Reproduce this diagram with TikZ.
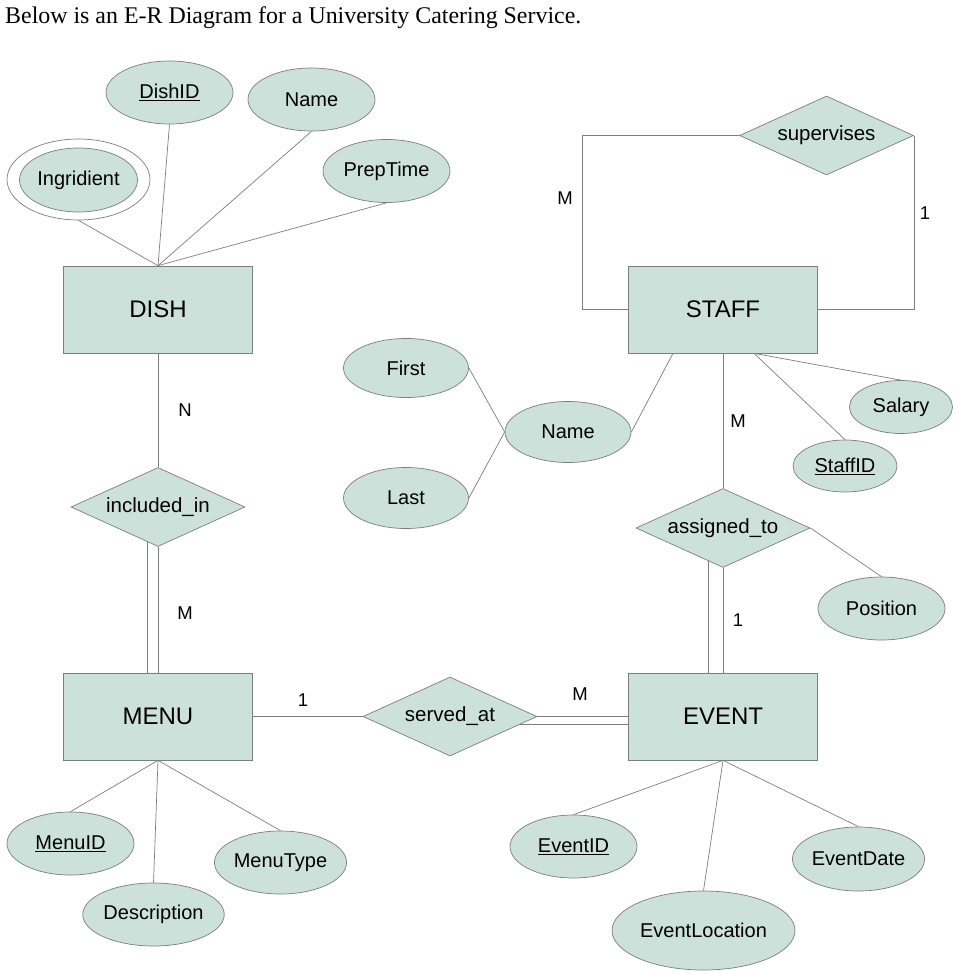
\documentclass[tikz,border=0pt]{standalone}
\usepackage{fontspec}
\setmainfont{Liberation Sans}
\newfontfamily\titlefont{Liberation Serif}
\usetikzlibrary{shapes.geometric,calc}
\definecolor{erfill}{RGB}{205,225,219}
\definecolor{erline}{RGB}{125,125,125}
\tikzset{
  attr/.style={ellipse, draw=erline, fill=erfill, line width=0.7pt, inner sep=0pt,
    minimum width=127pt, minimum height=63pt, font=\fontsize{20}{24}\selectfont},
  entity/.style={rectangle, draw=erline, fill=erfill, line width=0.7pt, inner sep=0pt,
    minimum width=189pt, minimum height=87pt, font=\fontsize{24}{28}\selectfont},
  rel/.style={diamond, draw=erline, fill=erfill, line width=0.7pt, inner sep=0pt, aspect=2.2,
    minimum width=174pt, minimum height=79pt, font=\fontsize{20.5}{24}\selectfont},
  conn/.style={draw=erline, line width=0.7pt},
  card/.style={font=\fontsize{18.5}{22}\selectfont, inner sep=0pt}
}
\begin{document}
\begin{tikzpicture}[x=1pt,y=-1pt]
\useasboundingbox (0,0) rectangle (957,974);
% title
\node[anchor=base west, inner sep=0pt, font=\titlefont\fontsize{23.9}{28}\selectfont] (title) at (5,24) {Below is an E-R Diagram for a University Catering Service.};

% entities
\node[entity] (dish) at (158,309.5) {DISH};
\node[entity] (staff) at (723,309.5) {STAFF};
\node[entity] (menu) at (158,716.5) {MENU};
\node[entity] (event) at (723,716.5) {EVENT};

% relationships
\node[rel] (sup) at (826.5,135.5) {supervises};
\node[rel] (incl) at (158,507) {included\_in};
\node[rel] (assigned) at (723,528) {assigned\_to};
\node[rel] (served) at (450,716.5) {served\_at};

% DISH attributes
\node[attr] (dishid) at (169.5,92.5) {\underline{DishID}};
\node[attr] (dname) at (311.5,99.5) {Name};
\node[attr] (prep) at (386.5,171) {PrepTime};
\node[ellipse, draw=erline, line width=0.7pt, inner sep=0pt, minimum width=143pt, minimum height=81pt] (ingout) at (78.5,179.5) {};
\node[attr, minimum width=118pt, minimum height=64pt] (ing) at (78.5,180) {Ingridient};

% STAFF attributes
\node[attr, minimum width=125pt, minimum height=59pt] (first) at (406,368) {First};
\node[attr, minimum width=126pt, minimum height=61pt] (sname) at (568,432) {Name};
\node[attr, minimum width=125pt, minimum height=61pt] (last) at (406,498) {Last};
\node[attr, minimum width=103pt, minimum height=53pt] (salary) at (901,407) {Salary};
\node[attr, minimum width=104pt, minimum height=52pt] (staffid) at (845,466) {\underline{StaffID}};
\node[attr] (position) at (881.5,608.5) {Position};

% MENU attributes
\node[attr] (menuid) at (70.5,843.5) {\underline{MenuID}};
\node[attr] (desc) at (153.5,914.5) {Description};
\node[attr] (mtype) at (280.5,862.5) {MenuType};

% EVENT attributes
\node[attr] (eventid) at (573.5,846.5) {\underline{EventID}};
\node[attr, minimum width=183pt, minimum height=79pt] (evloc) at (703.5,930.5) {EventLocation};
\node[attr, minimum width=127pt, minimum height=64pt] (evdate) at (858.5,859) {EventDate};

% DISH connectors
\draw[conn] (dish.north) -- (ingout.south);
\draw[conn] (dish.north) -- (dishid.south);
\draw[conn] (dish.north) -- (dname.south);
\draw[conn] (dish.north) -- (prep.south);

% supervises loop
\coordinate (loopL) at (582,135.5);
\coordinate (loopR) at (913,135.5);
\draw[conn] (sup.west) -- (loopL) |- (staff.west);
\draw[conn] (sup.east) |- (staff.east);

% STAFF attributes connectors
\draw[conn] (first.east) -- (sname.west);
\draw[conn] (last.east) -- (sname.west);
\draw[conn] (sname.east) -- ([xshift=-50pt]staff.south);
\draw[conn] ([xshift=31pt]staff.south) -- (salary.north);
\draw[conn] ([xshift=31pt]staff.south) -- (staffid.north);

% STAFF - assigned_to - EVENT
\draw[conn] (staff.south) -- (assigned.north);
\draw[conn] (assigned.east) -- (position.north);
\draw[conn] (assigned.south) -- (event.north);
\coordinate (asL) at ($(assigned.south)!15/87!(assigned.west)$);
\draw[conn] (asL) -- (asL |- event.north);

% DISH - included_in - MENU
\draw[conn] (dish.south) -- (incl.north);
\draw[conn] (incl.south) -- (menu.north);
\coordinate (inL) at ($(incl.south)!11/87!(incl.west)$);
\draw[conn] (inL) -- (inL |- menu.north);

% MENU - served_at - EVENT
\draw[conn] (menu.east) -- (served.west);
\draw[conn] (served.east) -- (event.west);
\coordinate (seL) at ($(served.east)!0.2!(served.south)$);
\draw[conn] (seL) -- (seL -| event.west);

% MENU attributes connectors
\draw[conn] (menu.south) -- (menuid.north);
\draw[conn] (menu.south) -- (desc.north);
\draw[conn] (menu.south) -- (mtype.north);

% EVENT attributes connectors
\draw[conn] (event.south) -- (eventid.north);
\draw[conn] (event.south) -- (evloc.north);
\draw[conn] (event.south) -- (evdate.north);

% cardinalities
\node[card] (cN) at (185,410) {N};
\node[card] (cM1) at (185,613) {M};
\node[card] (c1a) at (303,700) {1};
\node[card] (cM2) at (580,694) {M};
\node[card] (cM3) at (565,198) {M};
\node[card] (c1b) at (925,213) {1};
\node[card] (cM4) at (738,421) {M};
\node[card] (c1c) at (738,620) {1};
\end{tikzpicture}
\end{document}
